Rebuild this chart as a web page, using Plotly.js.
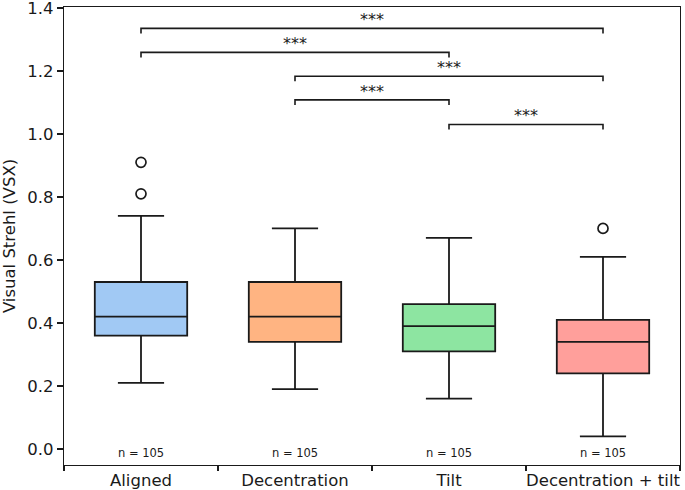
<!DOCTYPE html>
<html>
<head>
<meta charset="utf-8">
<script src="https://cdn.plot.ly/plotly-3.0.1.min.js"></script>
<style>html,body{margin:0;padding:0;background:#fff;}#chart{width:685px;height:490px;}</style>
</head>
<body>
<div id="chart"></div>
<script>
// ---- data ----
const categories = ["Aligned", "Decentration", "Tilt", "Decentration + tilt"];
const q1Values = [0.36, 0.34, 0.31, 0.24];
const medianValues = [0.42, 0.42, 0.39, 0.34];
const q3Values = [0.53, 0.53, 0.46, 0.41];
const lowerWhisker = [0.21, 0.19, 0.16, 0.04];
const upperWhisker = [0.74, 0.70, 0.67, 0.61];
const outlierCategories = ["Aligned", "Aligned", "Decentration + tilt"];
const outlierValues = [0.91, 0.81, 0.70];
const sampleSizes = [105, 105, 105, 105];
const boxColors = ["#a1c9f4", "#ffb482", "#8de5a1", "#ff9f9b"];
const yTickValues = [0.0, 0.2, 0.4, 0.6, 0.8, 1.0, 1.2, 1.4];
// significance comparisons: [from index, to index], bracket heights, labels
const comparisonPairs = [[0, 3], [0, 2], [1, 3], [1, 2], [2, 3]];
const bracketHeights = [1.335, 1.259, 1.183, 1.108, 1.030];
const significanceLabels = ["***", "***", "***", "***", "***"];

const FONT = "DejaVu Sans, Liberation Sans, sans-serif";
const INK = "#1a1a1a";
const traces = [];
categories.forEach((c, i) => {
  traces.push({
    type: "box",
    x: [c],
    q1: [q1Values[i]],
    median: [medianValues[i]],
    q3: [q3Values[i]],
    lowerfence: [lowerWhisker[i]],
    upperfence: [upperWhisker[i]],
    boxpoints: false,
    width: 0.6,
    whiskerwidth: 0.5,
    fillcolor: boxColors[i],
    line: {color: INK, width: 1.8},
    showlegend: false,
    hoverinfo: "skip"
  });
});
traces.push({
  type: "scatter",
  mode: "markers",
  x: outlierCategories,
  y: outlierValues,
  marker: {symbol: "circle-open", size: 10, color: INK, line: {width: 1.7, color: INK}},
  showlegend: false,
  hoverinfo: "skip"
});
const drop = 0.016;
const annotations = [];
comparisonPairs.forEach((p, k) => {
  const h = bracketHeights[k];
  traces.push({
    type: "scatter",
    mode: "lines",
    x: [categories[p[0]], categories[p[0]], categories[p[1]], categories[p[1]]],
    y: [h - drop, h, h, h - drop],
    line: {color: INK, width: 1.6},
    showlegend: false,
    hoverinfo: "skip"
  });
  annotations.push({
    x: (p[0] + p[1]) / 2, y: h + 0.027, xref: "x", yref: "y",
    text: significanceLabels[k], showarrow: false, yanchor: "middle",
    font: {family: FONT, size: 16, color: INK}
  });
});
categories.forEach((c, i) => {
  annotations.push({
    x: i, y: -0.012, xref: "x", yref: "y",
    text: "n = " + sampleSizes[i], showarrow: false, yanchor: "middle",
    font: {family: FONT, size: 11.5, color: INK}
  });
});

const layout = {
  width: 685, height: 490,
  margin: {l: 64, r: 5, t: 7, b: 25},
  paper_bgcolor: "#fff", plot_bgcolor: "#fff",
  font: {family: FONT, color: INK},
  boxmode: "overlay",
  xaxis: {
    type: "category",
    categoryorder: "array", categoryarray: categories,
    range: [-0.5, 3.5],
    tickson: "boundaries",
    tickangle: 0,
    ticks: "outside", ticklen: 5, tickwidth: 1.2, tickcolor: INK,
    showline: true, linecolor: INK, linewidth: 1.2, mirror: true,
    showgrid: false, zeroline: false,
    tickfont: {family: FONT, size: 16.5, color: INK},
    automargin: false
  },
  yaxis: {
    range: [-0.051, 1.403],
    tickmode: "array", tickvals: yTickValues, ticktext: yTickValues.map(v => v.toFixed(1)),
    ticklabeloverflow: "allow",
    ticks: "outside", ticklen: 6, tickwidth: 1.2, tickcolor: INK,
    showline: true, linecolor: INK, linewidth: 1.2, mirror: true,
    showgrid: false, zeroline: false,
    tickfont: {family: FONT, size: 16.5, color: INK},
    title: {text: "Visual Strehl (VSX)", font: {family: FONT, size: 16.5, color: INK}, standoff: 8},
    automargin: false
  },
  annotations: annotations
};
Plotly.newPlot("chart", traces, layout, {displayModeBar: false, staticPlot: true});
</script>
</body>
</html>
